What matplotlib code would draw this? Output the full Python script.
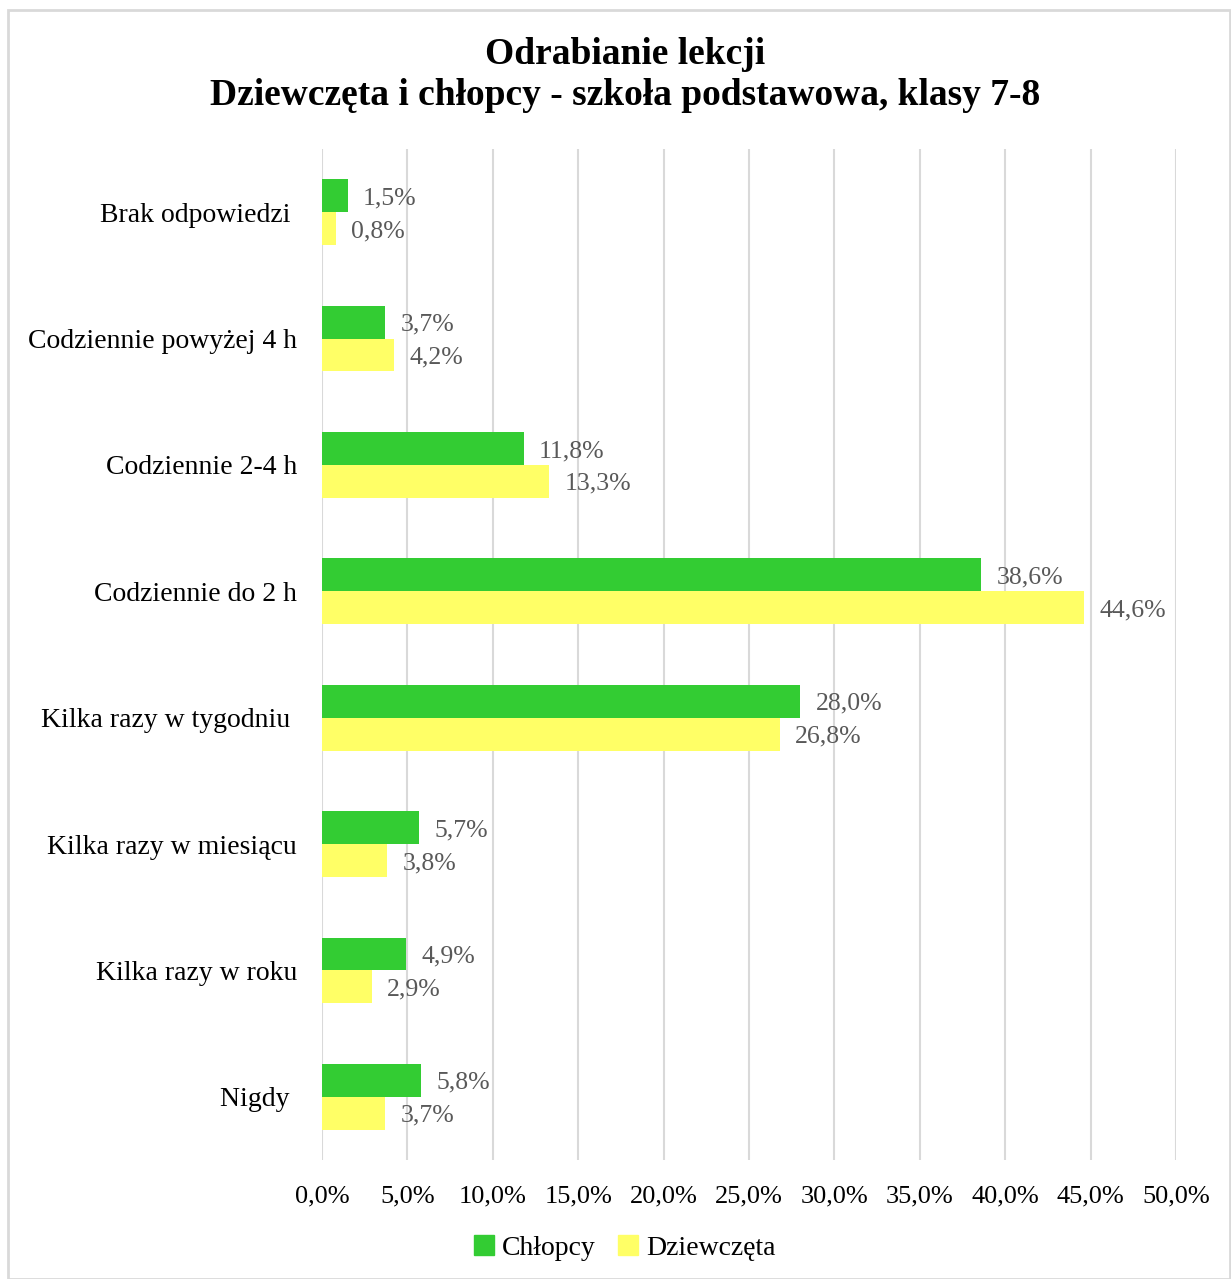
import matplotlib.pyplot as plt
import numpy as np
from matplotlib.patches import Rectangle

categories = ['Brak odpowiedzi ', 'Codziennie powyżej 4 h', 'Codziennie 2-4 h',
              'Codziennie do 2 h', 'Kilka razy w tygodniu ', 'Kilka razy w miesiącu',
              'Kilka razy w roku', 'Nigdy ']
chlopcy = [1.5, 3.7, 11.8, 38.6, 28.0, 5.7, 4.9, 5.8]
dziewczeta = [0.8, 4.2, 13.3, 44.6, 26.8, 3.8, 2.9, 3.7]
ticks = [0, 5, 10, 15, 20, 25, 30, 35, 40, 45, 50]

green = '#33CC33'
yellow = '#FFFF66'
W, H = 1231, 1279

plt.rcParams['font.family'] = ['Liberation Serif', 'DejaVu Serif']

fig = plt.figure(figsize=(W / 100, H / 100), dpi=100)
fig.patches.append(Rectangle((8 / W, 0), 1 - 8 / W - 1 / W, 1 - 10 / H, transform=fig.transFigure,
                             fill=False, edgecolor='#D9D9D9', linewidth=2))

ax = fig.add_axes([322 / W, 1 - 1160 / H, (1176 - 322) / W, (1160 - 149) / H])

y = np.arange(len(categories))
h = 0.26
ax.barh(y - h / 2, chlopcy, height=h, color=green, zorder=3)
ax.barh(y + h / 2, dziewczeta, height=h, color=yellow, zorder=3)

for i in range(len(categories)):
    ax.text(chlopcy[i] + 0.9, y[i] - h / 2, f'{chlopcy[i]:.1f}%'.replace('.', ','),
            va='center_baseline', ha='left', fontsize=18.5, color='#595959', zorder=4)
    ax.text(dziewczeta[i] + 0.9, y[i] + h / 2, f'{dziewczeta[i]:.1f}%'.replace('.', ','),
            va='center_baseline', ha='left', fontsize=18.5, color='#595959', zorder=4)

ax.set_ylim(len(categories) - 0.5, -0.5)
ax.set_xlim(0, 50)
ax.set_xticks(ticks)
ax.set_xticklabels([f'{t:.1f}%'.replace('.', ',') for t in ticks], fontsize=19)
ax.set_yticks(y)
ax.set_yticklabels(categories, fontsize=20)
ax.tick_params(axis='y', length=0, pad=18)
ax.tick_params(axis='x', length=0, pad=18)
ax.xaxis.grid(True, color='#D9D9D9', linewidth=1.5, zorder=0)
for s in ax.spines.values():
    s.set_visible(False)

fig.text(625 / W, 1 - 75 / H, 'Odrabianie lekcji\nDziewczęta i chłopcy - szkoła podstawowa, klasy 7-8',
         ha='center', va='center', fontsize=27, fontweight='bold', linespacing=1.2)

handles = [Rectangle((0, 0), 1, 1, color=green), Rectangle((0, 0), 1, 1, color=yellow)]
fig.legend(handles, ['Chłopcy', 'Dziewczęta'], loc='center', bbox_to_anchor=(625 / W, 1 - 1248 / H),
           ncol=2, frameon=False, fontsize=20, handlelength=0.7, handleheight=0.7,
           handletextpad=0.3, columnspacing=0.8)

plt.savefig('out.png', dpi=100)
